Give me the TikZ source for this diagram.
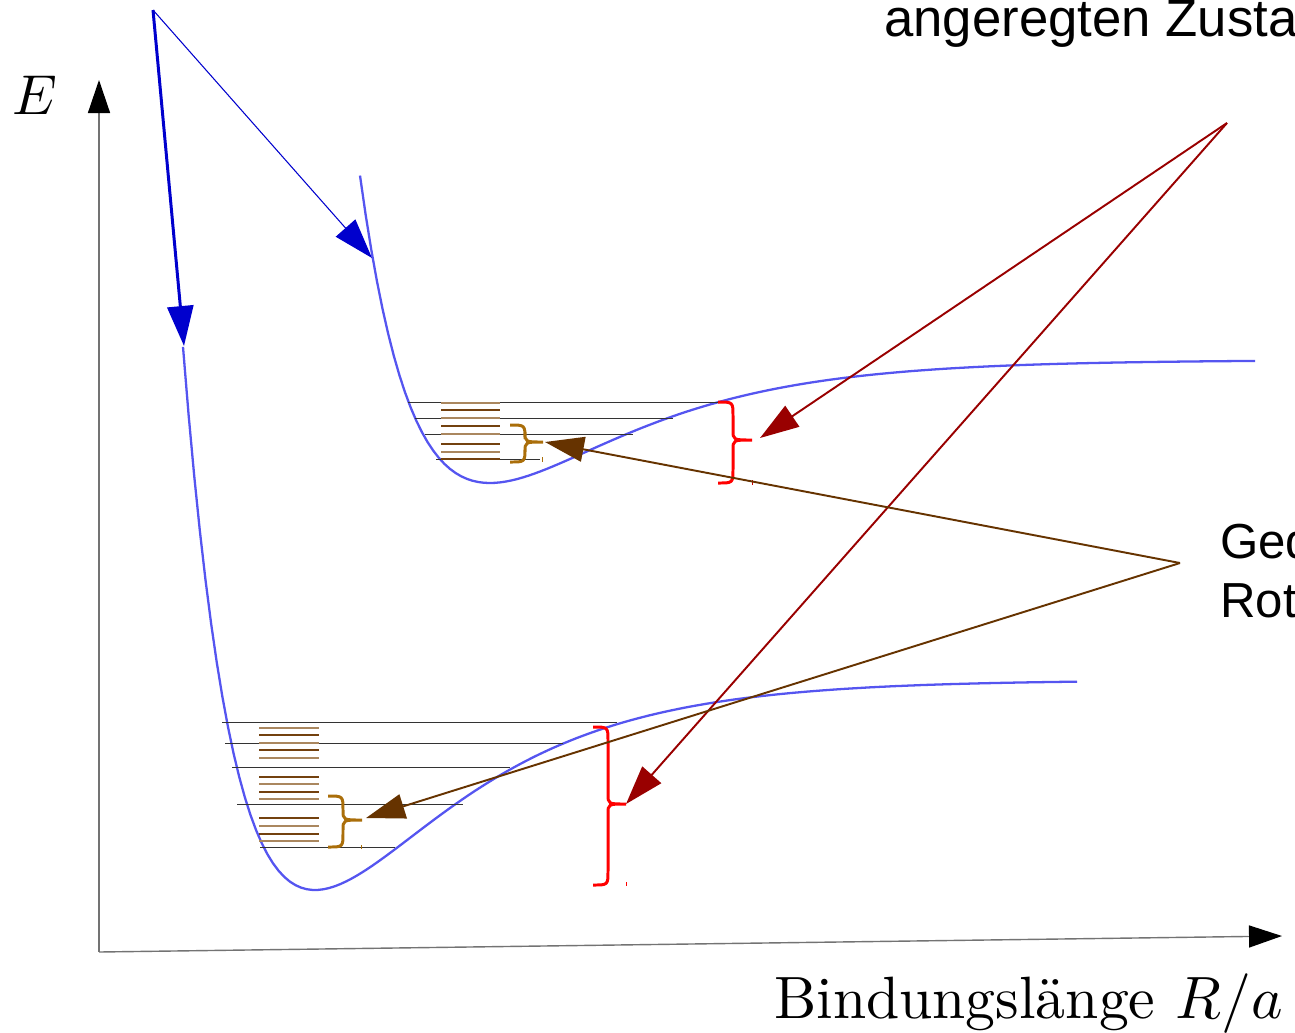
\documentclass[tikz,border=0pt]{standalone}
\usepackage{fontspec}
\newfontfamily\labelfont{Liberation Sans}
\usetikzlibrary{arrows.meta}
\definecolor{pescol}{RGB}{85,85,240}
\definecolor{arrblue}{RGB}{0,0,205}
\definecolor{arrred}{RGB}{153,0,0}
\definecolor{arrbrown}{RGB}{102,51,0}
\definecolor{brcbrown}{RGB}{170,110,10}
\definecolor{rotlight}{RGB}{170,135,95}
\definecolor{rotdark}{RGB}{115,65,15}
% curly brace opening to the right: end x, top y, bottom y, tip x, tip y
\newcommand{\curlybr}[6][]{%
  \draw[#1] (#2,#3) .. controls ({#2+15},#3) .. ({#2+15},{#3+14})
    -- ({#2+15},{#6-10}) .. controls ({#2+15},#6) .. (#5,#6)
    .. controls ({#2+15},#6) .. ({#2+15},{#6+10})
    -- ({#2+15},{#4-14}) .. controls ({#2+15},#4) .. (#2,#4);}

\begin{document}
\begin{tikzpicture}[
  x=0.02cm, y=-0.02cm,
  pes/.style     = {draw=pescol, line width=1.3pt},
  lvl/.style     = {draw=black!80, line width=0.55pt},
  rotlvl/.style  = {line width=0.8pt},
  axis/.style    = {draw=black!55, line width=0.8pt,
                    -{Triangle[length=0.66cm, width=0.44cm, color=black]}},
  vbrace/.style  = {draw=red, line width=1.7pt},
  rbrace/.style  = {draw=brcbrown, line width=1.7pt},
  blarrow/.style = {draw=arrblue, -{Triangle[length=0.8cm, width=0.52cm]}},
  rdarrow/.style = {draw=arrred, line width=1.1pt, -{Triangle[length=0.78cm, width=0.5cm]}},
  brarrow/.style = {draw=arrbrown, line width=1.1pt, -{Triangle[length=0.78cm, width=0.5cm]}},
  lbl/.style     = {inner sep=0pt},
]
\useasboundingbox (0,0) rectangle (1295,1032);

% axes
\coordinate (O) at (99,952);
\coordinate (ytop) at (99,80);
\coordinate (xend) at (1282,936);
\draw[axis] (O) -- (ytop);
\draw[axis] (O) -- (xend);
\node[lbl, scale=3.2] (elabel) at (35,95) {$E$};
\node[lbl, anchor=base west, scale=3.4] (xlabel) at (773,1018)
  {Bindungsl\"ange $R/a$};

% potential curves
\draw[pes] plot[domain=183:1077, samples=160]
  (\x, {890-210*(1-exp(-0.00726*(\x-315)))*(1-exp(-0.00726*(\x-315)))});
\draw[pes] plot[domain=360:1255, samples=160]
  (\x, {483-123*(1-exp(-0.0073*(\x-490)))*(1-exp(-0.0073*(\x-490)))});

% vibrational levels
\foreach \a/\b/\y in {222/617/722, 225/563/743, 232/510/767, 237/463/804, 260/395/847}
  \draw[lvl] (\a,\y) -- (\b,\y);
\foreach \a/\b/\y in {408/718/402, 415/673/418, 425/633/434, 436/540/459}
  \draw[lvl] (\a,\y) -- (\b,\y);

% rotational levels
\foreach \y [count=\i] in {728,735,743,750,758,777,784,792,799,818,826,834,841} {
  \pgfmathsetmacro{\odd}{mod(\i,2)}
  \ifdim\odd pt>0.5pt \def\rc{rotlight}\else\def\rc{rotdark}\fi
  \draw[rotlvl, draw=\rc] (259,\y) -- (319,\y);
}
\foreach \y [count=\i] in {403,410,418,426,434,444,452,459} {
  \pgfmathsetmacro{\odd}{mod(\i,2)}
  \ifdim\odd pt>0.5pt \def\rc{rotlight}\else\def\rc{rotdark}\fi
  \draw[rotlvl, draw=\rc] (441,\y) -- (500,\y);
}

% braces
\curlybr[vbrace]{718}{402}{483}{752}{440}
\curlybr[vbrace]{593}{727}{885}{626}{804}
\curlybr[rbrace]{510}{425}{462}{543}{442}
\curlybr[rbrace]{328}{796}{847}{362}{820}
\draw[brcbrown, line width=0.5pt] (542,457) -- (542,462);
\draw[red!80!black, line width=0.5pt] (752,480) -- (752,485);
\draw[brcbrown, line width=0.5pt] (361,845) -- (361,849);
\draw[red, line width=0.5pt] (626,882) -- (626,886);

% arrow hubs and targets
\coordinate (src)   at (153,10);
\coordinate (gtip)  at (184,346);
\coordinate (etip)  at (372,258);
\coordinate (hubR)  at (1227,123);
\coordinate (rtipE) at (760,438);
\coordinate (rtipG) at (626,804);
\coordinate (hubB)  at (1180,563);
\coordinate (btipE) at (545,442);
\coordinate (btipG) at (366,818);

\draw[blarrow, line width=1.7pt] (src) -- (gtip);
\draw[blarrow, line width=0.6pt] (src) -- (etip);
\draw[rdarrow] (hubR) -- (rtipE);
\draw[rdarrow] (hubR) -- (rtipG);
\draw[brarrow] (hubB) -- (btipE);
\draw[brarrow] (hubB) -- (btipG);

% labels
\node[lbl, anchor=base west, font=\labelfont\fontsize{30}{35}\selectfont] (exctext)
  at (884,36) {angeregten Zustand};
\node[lbl, anchor=base west, align=left, font=\labelfont\fontsize{28}{33.5}\selectfont]
  (rottext) at (1220,617) {Gequantelte\\Rotationsniveaus};
\end{tikzpicture}
\end{document}
